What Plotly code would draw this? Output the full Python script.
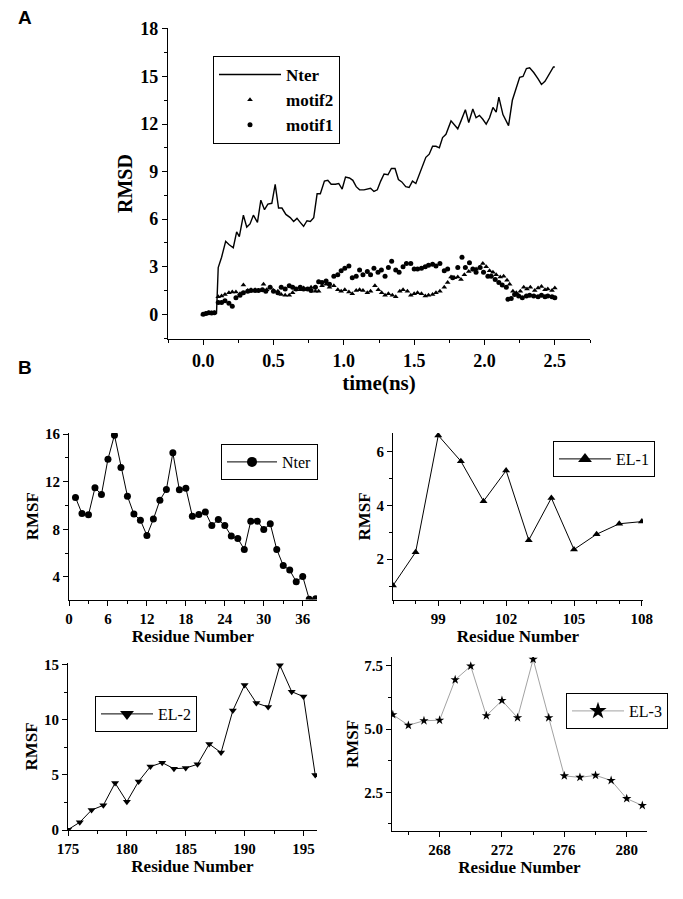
import plotly.graph_objects as go

# ---------------- Panel A data (RMSD vs time) ----------------
nter_t = [0.0, 0.02, 0.04, 0.06, 0.08, 0.095, 0.107, 0.131, 0.160, 0.183, 0.214, 0.238, 0.257, 0.286,
          0.310, 0.333, 0.357, 0.386, 0.410, 0.436, 0.460, 0.488, 0.512, 0.536, 0.560, 0.588, 0.619,
          0.643, 0.667, 0.690, 0.714, 0.738, 0.762, 0.786, 0.810, 0.833, 0.862, 0.886, 0.910, 0.940,
          0.964, 0.988, 1.012, 1.040, 1.064, 1.088, 1.112, 1.143, 1.167, 1.190, 1.214, 1.238, 1.262,
          1.286, 1.314, 1.338, 1.364, 1.388, 1.412, 1.440, 1.464, 1.488, 1.512, 1.536, 1.560, 1.583,
          1.607, 1.631, 1.655, 1.679, 1.702, 1.726, 1.762, 1.786, 1.810, 1.833, 1.864, 1.888, 1.917,
          1.940, 1.964, 1.988, 2.012, 2.036, 2.060, 2.083, 2.102, 2.131, 2.171, 2.198, 2.226, 2.250,
          2.274, 2.298, 2.321, 2.350, 2.381, 2.405, 2.430, 2.460, 2.490, 2.500]
nter_rmsd = [0.05, 0.08, 0.06, 0.1, 0.1, 0.1, 2.95, 3.6, 4.6, 4.4, 4.2, 5.2, 4.9, 6.25,
             5.5, 5.7, 6.25, 5.8, 7.2, 6.6, 6.95, 7.0, 8.2, 6.7, 6.7, 6.3, 6.1,
             5.85, 6.05, 5.8, 5.55, 5.9, 5.85, 6.1, 7.6, 7.6, 8.4, 8.45, 8.2, 8.2,
             8.25, 7.9, 8.65, 8.6, 8.45, 8.05, 7.85, 7.85, 7.9, 7.95, 7.75, 7.85, 8.4,
             8.85, 8.8, 9.2, 9.2, 8.5, 8.35, 8.05, 8.0, 8.4, 8.25, 8.85, 9.45, 9.9,
             10.1, 10.6, 10.6, 10.5, 11.15, 11.35, 12.2, 11.95, 11.7, 12.2, 12.9, 12.1, 12.95,
             12.4, 12.55, 12.3, 12.0, 12.4, 13.05, 12.75, 13.7, 12.6, 11.9, 13.5, 14.3, 14.95,
             15.0, 15.5, 15.55, 15.25, 14.85, 14.5, 14.7, 15.2, 15.6, 15.6]

motif2_t = [0.0, 0.02, 0.04, 0.06, 0.08, 0.107, 0.131, 0.155, 0.183, 0.207, 0.233, 0.262, 0.286,
            0.317, 0.340, 0.369, 0.393, 0.429, 0.452, 0.476, 0.500, 0.531, 0.555, 0.583, 0.612,
            0.636, 0.660, 0.690, 0.714, 0.743, 0.767, 0.798, 0.821, 0.845, 0.874, 0.898, 0.929,
            0.957, 0.981, 1.007, 1.036, 1.060, 1.088, 1.112, 1.136, 1.167, 1.190, 1.221, 1.245,
            1.269, 1.293, 1.317, 1.345, 1.369, 1.398, 1.421, 1.452, 1.476, 1.500, 1.524, 1.552,
            1.579, 1.602, 1.631, 1.655, 1.683, 1.714, 1.738, 1.762, 1.786, 1.810, 1.833, 1.857,
            1.888, 1.917, 1.940, 1.964, 1.988, 2.012, 2.036, 2.060, 2.083, 2.112, 2.136, 2.160,
            2.179, 2.202, 2.226, 2.255, 2.279, 2.302, 2.326, 2.357, 2.381, 2.405, 2.430, 2.450,
            2.480, 2.500]
motif2_rmsd = [0.0, 0.05, 0.1, 0.08, 0.1, 1.1, 1.15, 1.25, 1.35, 1.4, 1.4, 1.3, 1.85,
               1.5, 1.55, 1.55, 1.5, 1.9, 1.55, 1.7, 1.5, 1.45, 1.25, 1.2, 1.2,
               1.35, 1.55, 1.55, 1.65, 1.55, 1.7, 1.45, 1.45, 1.8, 1.9, 1.7, 1.8,
               1.55, 1.45, 1.55, 1.4, 1.3, 1.5, 1.55, 1.5, 1.35, 1.45, 1.8, 1.55,
               1.35, 1.2, 1.3, 1.2, 1.1, 1.45, 1.55, 1.45, 1.2, 1.3, 1.35, 1.3,
               1.15, 1.2, 1.25, 1.35, 1.45, 1.7, 2.0, 2.35, 2.3, 2.35, 2.2, 2.5,
               2.7, 2.8, 2.85, 2.95, 3.2, 3.0, 2.75, 2.65, 2.5, 2.35, 2.4, 2.15,
               1.9, 1.45, 1.35, 1.45, 1.7, 1.6, 1.7, 1.5, 1.65, 1.75, 1.55, 1.6,
               1.5, 1.65]

motif1_t = [0.0, 0.02, 0.04, 0.06, 0.08, 0.107, 0.131, 0.155, 0.183, 0.207, 0.233, 0.262, 0.286,
            0.317, 0.340, 0.369, 0.393, 0.421, 0.445, 0.476, 0.500, 0.531, 0.555, 0.583, 0.612,
            0.636, 0.660, 0.690, 0.714, 0.743, 0.767, 0.798, 0.821, 0.845, 0.874, 0.898, 0.929,
            0.957, 0.981, 1.007, 1.036, 1.060, 1.088, 1.112, 1.136, 1.167, 1.190, 1.214, 1.243,
            1.267, 1.293, 1.317, 1.340, 1.369, 1.393, 1.421, 1.445, 1.476, 1.500, 1.524, 1.552,
            1.579, 1.602, 1.631, 1.655, 1.683, 1.714, 1.738, 1.774, 1.810, 1.840, 1.864, 1.893,
            1.917, 1.940, 1.969, 1.993, 2.024, 2.048, 2.076, 2.102, 2.126, 2.155, 2.167, 2.190,
            2.214, 2.243, 2.269, 2.298, 2.321, 2.350, 2.381, 2.405, 2.430, 2.450, 2.480, 2.500]
motif1_rmsd = [0.0, 0.05, 0.1, 0.08, 0.1, 0.75, 0.75, 0.85, 0.7, 0.5, 1.05, 1.2, 1.35,
               1.45, 1.5, 1.5, 1.5, 1.55, 1.45, 1.7, 1.45, 1.35, 1.7, 1.6, 1.8,
               1.7, 1.6, 1.7, 1.6, 1.6, 1.5, 1.7, 2.05, 2.0, 2.1, 1.9, 2.4,
               2.5, 2.75, 2.9, 3.05, 2.3, 2.4, 2.8, 2.5, 2.7, 2.5, 2.9, 2.65,
               2.8, 2.4, 2.95, 3.35, 2.8, 2.65, 3.0, 3.2, 3.2, 2.85, 2.85, 2.9,
               3.0, 3.1, 3.15, 3.05, 3.2, 2.75, 2.85, 2.3, 2.95, 3.6, 2.95, 3.25,
               2.85, 2.65, 2.95, 2.65, 2.4, 2.4, 2.2, 2.0, 1.85, 1.7, 0.95, 1.0,
               1.25, 1.15, 1.05, 1.15, 1.2, 1.15, 1.1, 1.2, 1.1, 1.15, 1.1, 1.05]

# ---------------- Panel B data (RMSF vs residue) ----------------
nter_res = list(range(1, 39))
nter_rmsf = [10.68, 9.33, 9.22, 11.49, 10.93, 13.9, 15.92, 13.2, 10.79, 9.28, 8.77, 7.48, 8.86,
             10.45, 11.35, 14.43, 11.32, 11.46, 9.11, 9.25, 9.45, 8.32, 8.83, 8.32, 7.43, 7.23,
             6.31, 8.69, 8.69, 7.99, 8.46, 6.31, 4.96, 4.57, 3.59, 4.04, 2.13, 2.16]

el1_res = list(range(97, 109))
el1_rmsf = [1.02, 2.26, 6.61, 5.65, 4.16, 5.30, 2.71, 4.28, 2.36, 2.93, 3.32, 3.40]

el2_res = list(range(175, 197))
el2_rmsf = [0.03, 0.7, 1.81, 2.24, 4.26, 2.57, 4.41, 5.75, 6.11, 5.56, 5.62, 5.96, 7.80, 7.02,
            10.83, 13.15, 11.52, 11.16, 14.94, 12.55, 12.1, 4.99]

el3_res = list(range(265, 282))
el3_rmsf = [5.57, 5.15, 5.33, 5.35, 6.95, 7.49, 5.53, 6.13, 5.45, 7.76, 5.45, 3.15, 3.09, 3.17,
            2.97, 2.25, 1.98]

# ---------------- Layout helpers ----------------
# The page has an 8 px body margin; the figure fills the rest of the 683x899 window.
OFF = 8
W, H = 683 - 2 * OFF, 899 - 2 * OFF
SERIF = "Liberation Serif, Times New Roman, serif"
SANS = "Liberation Sans, Arial, sans-serif"


def px(x):
    return (x - OFF) / W


def py(y):
    return 1 - (y - OFF) / H


def dom_x(a, b):
    return [px(a), px(b)]


def dom_y(top, bottom):
    return [py(bottom), py(top)]


def axis(domain, anchor, rng, tickvals, minor_dtick, tfont, title, tsize, standoff, fmt=None):
    d = dict(domain=domain, anchor=anchor, range=rng, tickvals=tickvals, automargin=False,
             showline=True, linecolor="black", linewidth=1.2, mirror=False,
             ticks="outside", ticklen=5, tickwidth=1.2, tickcolor="black",
             showgrid=False, zeroline=False,
             tickfont=dict(family=SERIF, size=tfont, color="black", weight="bold"),
             minor=dict(dtick=minor_dtick, ticks="outside", ticklen=3, tickwidth=1, tickcolor="black",
                        showgrid=False),
             title=dict(text=title, standoff=standoff,
                        font=dict(family=SERIF, size=tsize, color="black", weight="bold")))
    if fmt:
        d["tickformat"] = fmt
    return d


fig = go.Figure()

# Panel A
fig.add_trace(go.Scatter(x=nter_t, y=nter_rmsd, mode="lines", name="Nter",
                         line=dict(color="black", width=1.4), xaxis="x", yaxis="y", legend="legend"))
fig.add_trace(go.Scatter(x=motif2_t, y=motif2_rmsd, mode="markers", name="motif2",
                         marker=dict(symbol="triangle-up", size=5, color="black"),
                         xaxis="x", yaxis="y", legend="legend"))
fig.add_trace(go.Scatter(x=motif1_t, y=motif1_rmsd, mode="markers", name="motif1",
                         marker=dict(symbol="circle", size=5, color="black"),
                         xaxis="x", yaxis="y", legend="legend"))

# Panel B: data traces (legend entries come from legend-only twins with bigger symbols)
b_series = [
    (nter_res, nter_rmsf, "Nter", "circle", "black", 1.0, 10, "2"),
    (el1_res, el1_rmsf, "EL-1", "triangle-up", "black", 1.0, 12, "3"),
    (el2_res, el2_rmsf, "EL-2", "triangle-down", "black", 1.0, 12, "4"),
    (el3_res, el3_rmsf, "EL-3", "star", "#8a8a8a", 0.8, 13, "5"),
]
for xs, ys, name, sym, lcol, lw, legsize, k in b_series:
    fig.add_trace(go.Scatter(x=xs, y=ys, mode="lines+markers", name=name, showlegend=False,
                             line=dict(color=lcol, width=lw),
                             marker=dict(symbol=sym, size=7, color="black"),
                             xaxis="x" + k, yaxis="y" + k))
    fig.add_trace(go.Scatter(x=[None], y=[None], mode="lines+markers", name=name, showlegend=True,
                             line=dict(color=lcol, width=lw),
                             marker=dict(symbol=sym, size=legsize, color="black"),
                             xaxis="x" + k, yaxis="y" + k, legend="legend" + k))

layout = dict(
    template="none",
    width=W, height=H, paper_bgcolor="white", plot_bgcolor="white",
    margin=dict(l=0, r=0, t=0, b=0, pad=0, autoexpand=False), showlegend=True,
    font=dict(family=SERIF, color="black"),
)

# Panel A axes
layout["xaxis"] = axis(dom_x(168, 590), "y", [-0.25, 2.75], [0, 0.5, 1.0, 1.5, 2.0, 2.5], 0.25, 18,
                       "time(ns)", 21, 0, ".1f")
layout["yaxis"] = axis(dom_y(28, 339), "x", [-1.56, 18.06], [0, 3, 6, 9, 12, 15, 18], 1.5, 18,
                       "RMSD", 20, 2)

# B1 Nter
layout["xaxis2"] = axis(dom_x(69, 317), "y2", [0, 38.2], [0, 6, 12, 18, 24, 30, 36], 3, 15,
                        "Residue Number", 17, 0)
layout["yaxis2"] = axis(dom_y(433, 599.5), "x2", [2.1, 16.1], [4, 8, 12, 16], 2, 15,
                        "RMSF", 17, 1)
# B2 EL-1
layout["xaxis3"] = axis(dom_x(393, 643), "y3", [97, 108.05], [99, 102, 105, 108], 1, 15,
                        "Residue Number", 17, 0)
layout["yaxis3"] = axis(dom_y(433, 600), "x3", [0.48, 6.7], [2, 4, 6], 1, 15,
                        "RMSF", 17, 1)
# B3 EL-2
layout["xaxis4"] = axis(dom_x(68, 317), "y4", [175, 196.15], [175, 180, 185, 190, 195], 2.5, 15,
                        "Residue Number", 17, 0)
layout["yaxis4"] = axis(dom_y(663, 830), "x4", [0, 15.15], [0, 5, 10, 15], 2.5, 15,
                        "RMSF", 17, 1)
# B4 EL-3
layout["xaxis5"] = axis(dom_x(392, 647), "y5", [264.95, 281.3], [268, 272, 276, 280], 2, 15,
                        "Residue Number", 17, 0)
layout["yaxis5"] = axis(dom_y(657, 831), "x5", [0.97, 7.85], [2.5, 5.0, 7.5], 1.25, 15,
                        "RMSF", 17, 1, ".1f")


def legend(x0, y0, size, bold, iw):
    return dict(x=px(x0), y=py(y0), xanchor="left", yanchor="top", xref="paper", yref="paper",
                bgcolor="white", bordercolor="black", borderwidth=1, itemwidth=iw, itemsizing="trace",
                font=dict(family=SERIF, size=size, color="black", weight="bold" if bold else "normal"))


layout["legend"] = legend(213, 56, 17, True, 62)
layout["legend2"] = legend(221, 444, 16, False, 50)
layout["legend3"] = legend(553, 441, 16, False, 52)
layout["legend4"] = legend(95, 696, 16, False, 52)
layout["legend5"] = legend(566, 693, 16, False, 52)

layout["annotations"] = [
    dict(text="A", x=px(25), y=py(18), xref="paper", yref="paper", showarrow=False,
         xanchor="center", yanchor="middle",
         font=dict(family=SANS, size=19, color="black", weight="bold")),
    dict(text="B", x=px(25), y=py(367), xref="paper", yref="paper", showarrow=False,
         xanchor="center", yanchor="middle",
         font=dict(family=SANS, size=19, color="black", weight="bold")),
]

fig.update_layout(**layout)
fig.write_html("out.html")
